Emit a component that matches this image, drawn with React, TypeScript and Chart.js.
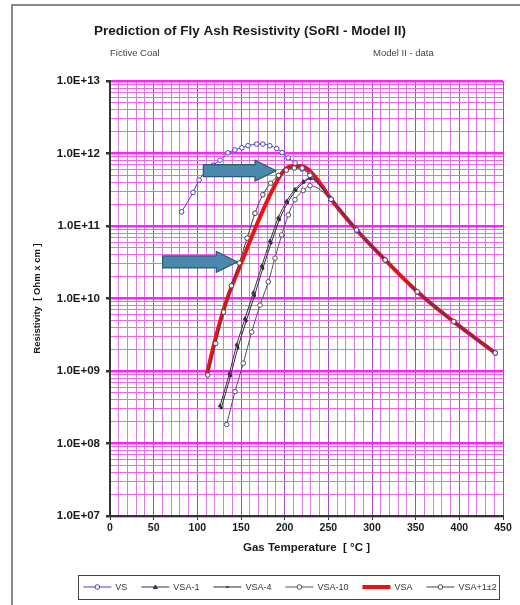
import React, { useEffect, useRef } from 'react';
import { Chart, registerables } from 'chart.js';

Chart.register(...registerables);

const FONT = '"Liberation Sans", Arial, Helvetica, sans-serif';

const titleText = 'Prediction of Fly Ash Resistivity (SoRI - Model II)';
const subLeftText = 'Fictive Coal';
const subRightText = 'Model II - data';
const xTitleText = 'Gas Temperature  [ °C ]';
const yTitleText = 'Resistivity  [ Ohm x cm ]';

// y axis decades and labels
const yDecades = [1e7, 1e8, 1e9, 1e10, 1e11, 1e12, 1e13];
const yTickLabels = ['1.0E+07', '1.0E+08', '1.0E+09', '1.0E+10', '1.0E+11', '1.0E+12', '1.0E+13'];
const yMinorMultipliers = [2, 3, 4, 5, 6, 7, 8, 9];
const xTickLabels = ['0', '50', '100', '150', '200', '250', '300', '350', '400', '450'];

// common descending branch (shared by all series)
const tailT = [253.2, 282.4, 315.1, 351.9, 393.5, 441.1];
const tailR = [2.34e11, 8.8e10, 3.4e10, 1.24e10, 4.8e9, 1.77e9];

const vsT = [82, 95, 102, 110, 118, 126, 135, 143, 151, 158, 168, 175, 183, 191, 197, 204, 212, 220, 229];
const vsR = [1.57e11, 2.9e11, 4.3e11, 5.7e11, 6.9e11, 8.1e11, 1.02e12, 1.12e12, 1.2e12, 1.28e12, 1.35e12, 1.35e12, 1.28e12, 1.17e12, 1.03e12, 8.7e11, 7.4e11, 6.3e11, 5.0e11];

const vsa1T = [126, 136.6, 145.1, 154.6, 164.1, 173.7, 183.2, 192.7, 202.3, 211.8, 221.3, 229];
const vsa1R = [3.3e8, 9.2e8, 2.3e9, 5.3e9, 1.2e10, 2.8e10, 6.2e10, 1.3e11, 2.2e11, 3.2e11, 4.1e11, 4.6e11];

const vsa4T = [127.5, 138, 146.5, 156, 165.5, 175, 184.5, 194, 203.5, 213, 222, 229.5];
const vsa4R = [3.1e8, 8.6e8, 2.1e9, 4.9e9, 1.1e10, 2.6e10, 5.8e10, 1.22e11, 2.1e11, 3.1e11, 4.0e11, 4.5e11];

const vsa10T = [133.6, 143.1, 152.6, 162.3, 171.8, 181.3, 188.9, 196.6, 204.2, 211.8, 221.3, 229];
const vsa10R = [1.83e8, 5.2e8, 1.28e9, 3.45e9, 8.1e9, 1.7e10, 3.6e10, 7.5e10, 1.42e11, 2.3e11, 3.1e11, 3.6e11];

const vsaT = [110.7, 122, 133.6, 150.8, 169.8, 185.2, 196.6, 206.1, 219.5, 231, 240.5];
const vsaR = [8.8e8, 3.2e9, 9.5e9, 3.2e10, 1.17e11, 3.0e11, 5.3e11, 6.6e11, 6.7e11, 5.4e11, 3.9e11];

const vsaPT = [112, 121, 130, 139, 148, 157, 166, 175, 184, 193, 202, 211, 220, 229];
const vsaPR = [8.8e8, 2.4e9, 6.5e9, 1.5e10, 3.1e10, 6.8e10, 1.5e11, 2.7e11, 3.9e11, 5.0e11, 5.9e11, 6.3e11, 6.1e11, 5.2e11];

// annotation arrows (data coordinates)
const arrowFromT = [106.8, 60.3];
const arrowToT = [190.1, 145.8];
const arrowR = [5.8e11, 3.2e10];

const seriesNames = ['VS', 'VSA-1', 'VSA-4', 'VSA-10', 'VSA', 'VSA+1±2'];

function pts(t: number[], r: number[]) {
  const a = t.map((x, i) => ({ x, y: r[i] }));
  const b = tailT.map((x, i) => ({ x, y: tailR[i] }));
  return a.concat(b);
}

function drawMarker(ctx: CanvasRenderingContext2D, style: string, x: number, y: number, r: number, fill: string, stroke: string) {
  ctx.save();
  ctx.fillStyle = fill;
  ctx.strokeStyle = stroke;
  ctx.lineWidth = 1;
  ctx.beginPath();
  if (style === 'circle') {
    ctx.arc(x, y, r, 0, Math.PI * 2);
    ctx.fill();
    ctx.stroke();
  } else if (style === 'triangle') {
    ctx.moveTo(x, y - r);
    ctx.lineTo(x + r, y + r * 0.8);
    ctx.lineTo(x - r, y + r * 0.8);
    ctx.closePath();
    ctx.fill();
    ctx.stroke();
  } else if (style === 'rect') {
    ctx.rect(x - r, y - r * 0.6, r * 2, r * 1.2);
    ctx.fill();
  }
  ctx.restore();
}

const decorPlugin = {
  id: 'decor',
  beforeDraw(chart: any) {
    const { ctx } = chart;
    ctx.save();
    ctx.fillStyle = '#ffffff';
    ctx.fillRect(0, 0, chart.width, chart.height);
    ctx.strokeStyle = '#8a8a8a';
    ctx.lineWidth = 2;
    ctx.beginPath();
    ctx.moveTo(12, chart.height);
    ctx.lineTo(12, 5);
    ctx.lineTo(chart.width, 5);
    ctx.stroke();
    ctx.restore();
  },
  afterDatasetsDraw(chart: any) {
    const { ctx } = chart;
    const xs = chart.scales.x;
    const ys = chart.scales.y;
    ctx.save();
    for (let i = 0; i < arrowFromT.length; i++) {
      const x0 = xs.getPixelForValue(arrowFromT[i]);
      const x1 = xs.getPixelForValue(arrowToT[i]);
      const y = ys.getPixelForValue(arrowR[i]);
      const bh = 6, hh = 10.5, hl = 21;
      ctx.beginPath();
      ctx.moveTo(x0, y - bh);
      ctx.lineTo(x1 - hl, y - bh);
      ctx.lineTo(x1 - hl, y - hh);
      ctx.lineTo(x1, y);
      ctx.lineTo(x1 - hl, y + hh);
      ctx.lineTo(x1 - hl, y + bh);
      ctx.lineTo(x0, y + bh);
      ctx.closePath();
      ctx.fillStyle = '#4a89ab';
      ctx.fill();
      ctx.strokeStyle = '#2b5874';
      ctx.lineWidth = 1.2;
      ctx.stroke();
    }
    ctx.restore();
  },
  afterDraw(chart: any) {
    const { ctx } = chart;
    ctx.save();
    ctx.fillStyle = '#1a1a1a';
    ctx.textBaseline = 'middle';
    ctx.textAlign = 'center';
    ctx.font = `bold 13.5px ${FONT}`;
    ctx.fillText(titleText, 250, 31);
    ctx.font = `9.5px ${FONT}`;
    ctx.fillStyle = '#444';
    ctx.textAlign = 'left';
    ctx.fillText(subLeftText, 110, 53);
    ctx.fillText(subRightText, 373, 53);

    // legend
    const ds = chart.data.datasets;
    ctx.font = `9px ${FONT}`;
    const sampleW = 32, gap = 2, spacing = 12;
    const widths = ds.map((d: any) => ctx.measureText(d.label).width);
    let total = 0;
    widths.forEach((w: number) => { total += sampleW + gap + w; });
    total += spacing * (ds.length - 1);
    const cx = 289, cy = 587;
    let x = cx - total / 2;
    ctx.strokeStyle = '#444';
    ctx.lineWidth = 1;
    ctx.strokeRect(Math.round(x - 3) + 0.5, 575.5, Math.round(total + 6), 24);
    ds.forEach((d: any, i: number) => {
      ctx.save();
      ctx.strokeStyle = d.borderColor;
      ctx.lineWidth = d.borderWidth;
      ctx.beginPath();
      ctx.moveTo(x + 2, cy);
      ctx.lineTo(x + sampleW - 2, cy);
      ctx.stroke();
      ctx.restore();
      if (d.pointRadius > 0) {
        drawMarker(ctx, d.pointStyle, x + sampleW / 2, cy, d.pointRadius, d.pointBackgroundColor, d.pointBorderColor);
      }
      ctx.fillStyle = '#333';
      ctx.textAlign = 'left';
      ctx.fillText(d.label, x + sampleW + gap, cy + 0.5);
      x += sampleW + gap + widths[i] + spacing;
    });
    ctx.restore();
  },
};

export default function App() {
  const ref = useRef<HTMLCanvasElement | null>(null);

  useEffect(() => {
    if (!ref.current) return;
    const yGridValues: number[] = [];
    yDecades.forEach((d, i) => {
      yGridValues.push(d);
      if (i < yDecades.length - 1) yMinorMultipliers.forEach((m) => yGridValues.push(m * d));
    });

    const mk = (label: string, data: any[], color: string, opts: any) => ({
      label,
      data,
      borderColor: color,
      backgroundColor: color,
      borderWidth: 1,
      pointRadius: 2.3,
      pointStyle: 'circle',
      pointBackgroundColor: '#ffffff',
      pointBorderColor: color,
      pointBorderWidth: 1,
      cubicInterpolationMode: 'monotone',
      fill: false,
      order: 0,
      ...opts,
    });

    const chart = new Chart(ref.current, {
      type: 'line',
      data: {
        datasets: [
          mk(seriesNames[0], pts(vsT, vsR), '#4b3fc4', {}),
          mk(seriesNames[1], pts(vsa1T, vsa1R), '#3a2e48', { pointStyle: 'triangle', pointRadius: 2, pointBackgroundColor: '#3a2e48' }),
          mk(seriesNames[2], pts(vsa4T, vsa4R), '#2a2a2a', { pointStyle: 'rect', pointRadius: 1.3, pointBackgroundColor: '#2a2a2a' }),
          mk(seriesNames[3], pts(vsa10T, vsa10R), '#55505a', {}),
          mk(seriesNames[4], pts(vsaT, vsaR), '#ee1111', { borderWidth: 4, pointRadius: 0, order: 1 }),
          mk(seriesNames[5], pts(vsaPT, vsaPR), '#444444', {}),
        ],
      },
      options: {
        responsive: false,
        animation: false,
        devicePixelRatio: 1,
        layout: { padding: { left: 20, right: 17, top: 81, bottom: 44 } },
        plugins: {
          legend: { display: false },
          title: { display: false },
          tooltip: { enabled: false },
        },
        scales: {
          x: {
            type: 'linear',
            min: 0,
            max: 450,
            afterFit: (s: any) => { s.height = 45; },
            ticks: {
              stepSize: 10,
              autoSkip: false,
              maxRotation: 0,
              padding: 2,
              color: '#1a1a1a',
              font: { family: FONT, size: 10.5, weight: 'bold' },
              callback: (v: any) => {
                const i = xTickLabels.indexOf(String(v));
                return i >= 0 ? xTickLabels[i] : '';
              },
            },
            grid: {
              color: (c: any) => (c.tick && c.tick.value % 50 === 0 ? '#9a50c4' : '#d57ae6'),
              lineWidth: 1,
              tickLength: 4,
              tickColor: (c: any) => (c.tick && c.tick.value % 50 === 0 ? '#333' : 'rgba(0,0,0,0)'),
            },
            border: { color: '#333', width: 2 },
            title: {
              display: true,
              text: xTitleText,
              color: '#1a1a1a',
              font: { family: FONT, size: 11.5, weight: 'bold' },
              padding: { top: 0, bottom: 6 },
            },
          },
          y: {
            type: 'logarithmic',
            min: 1e7,
            max: 1e13,
            afterFit: (s: any) => { s.width = 90; },
            afterBuildTicks: (s: any) => {
              s.ticks = yGridValues.map((v) => ({ value: v }));
            },
            ticks: {
              autoSkip: false,
              padding: 6,
              color: '#1a1a1a',
              font: { family: FONT, size: 11.5, weight: 'bold' },
              callback: (v: any) => {
                const i = yDecades.indexOf(Number(v));
                return i >= 0 ? yTickLabels[i] : '';
              },
            },
            grid: {
              color: (c: any) => (c.tick && yDecades.indexOf(c.tick.value) >= 0 ? '#ff22ff' : '#ec66ec'),
              lineWidth: (c: any) => (c.tick && yDecades.indexOf(c.tick.value) >= 0 ? 2.5 : 1),
              tickLength: 4,
              tickColor: (c: any) => (c.tick && yDecades.indexOf(c.tick.value) >= 0 ? '#333' : 'rgba(0,0,0,0)'),
            },
            border: { color: '#333', width: 2 },
            title: {
              display: true,
              text: yTitleText,
              color: '#1a1a1a',
              font: { family: FONT, size: 9.5, weight: 'bold' },
              padding: { top: 11.3, bottom: 0 },
            },
          },
        },
      },
      plugins: [decorPlugin],
    } as any);

    return () => chart.destroy();
  }, []);

  return (
    <div style={{ position: 'fixed', left: 0, top: 0, width: 520, height: 605, overflow: 'hidden', background: '#fff' }}>
      <canvas ref={ref} width={520} height={605} style={{ width: 520, height: 605, display: 'block' }} />
    </div>
  );
}
